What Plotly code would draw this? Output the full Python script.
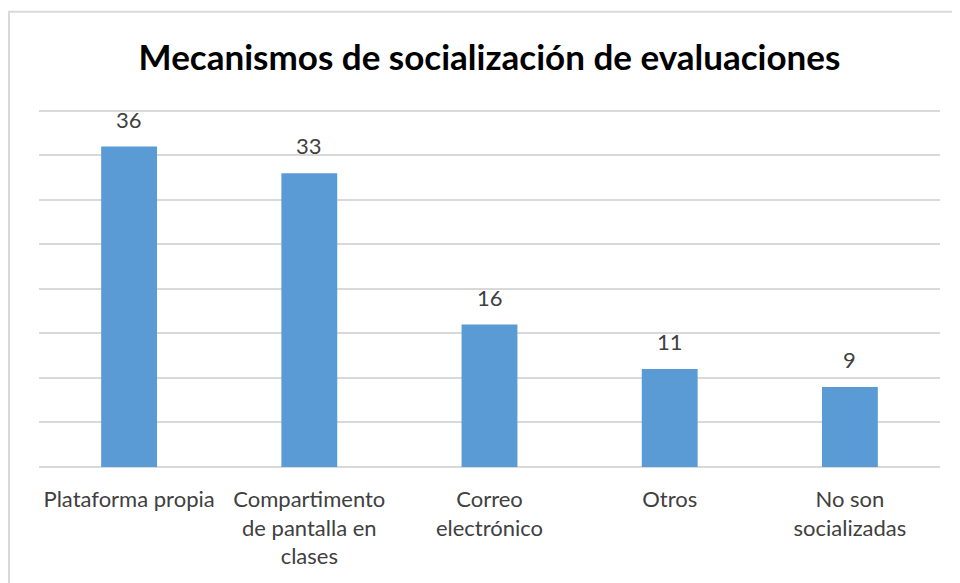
import plotly.graph_objects as go

categorias = [
    "Plataforma propia",
    "Compartimento<br>de pantalla en<br>clases",
    "Correo<br>electrónico",
    "Otros",
    "No son<br>socializadas",
]
valores = [36, 33, 16, 11, 9]

fig = go.Figure(
    go.Bar(
        x=categorias,
        y=valores,
        marker_color="#5b9bd5",
        marker_line_width=0,
        hoverinfo="x+y",
    )
)

for cat, val in zip(categorias, valores):
    fig.add_annotation(
        x=cat,
        y=val,
        text=str(val),
        showarrow=False,
        yanchor="bottom",
        yshift=12,
        font=dict(family="Lato", size=22, color="#404040"),
    )

# marco exterior estilo Excel
fig.add_shape(
    type="rect",
    xref="paper",
    yref="paper",
    x0=-0.0333,
    x1=1.05,
    y0=-0.4,
    y1=1.247,
    line=dict(color="#d9d9d9", width=2),
    layer="below",
)

# la página añade 8px de margen al body, se compensa aquí
fig.update_layout(
    width=952,
    height=575,
    paper_bgcolor="white",
    plot_bgcolor="white",
    margin=dict(l=31, r=20, t=94, b=116),
    bargap=0.69,
    showlegend=False,
    title=dict(
        text="<b>Mecanismos de socialización de evaluaciones</b>",
        x=0.5,
        xref="paper",
        y=1 - 50 / 575,
        yref="container",
        yanchor="middle",
        font=dict(family="Lato", size=35, color="#000000"),
    ),
    font=dict(family="Lato", size=22, color="#404040"),
)

fig.update_xaxes(
    showgrid=False,
    showline=False,
    ticks="",
    tickfont=dict(family="Lato", size=22, color="#404040"),
    tickangle=0,
    ticklabelstandoff=17,
)
fig.update_yaxes(
    range=[0, 41],
    tick0=0,
    dtick=5,
    showgrid=True,
    gridcolor="#d9d9d9",
    gridwidth=1.5,
    showticklabels=False,
    zeroline=True,
    zerolinecolor="#d9d9d9",
    zerolinewidth=2,
    showline=False,
)

fig.write_html("out.html")
